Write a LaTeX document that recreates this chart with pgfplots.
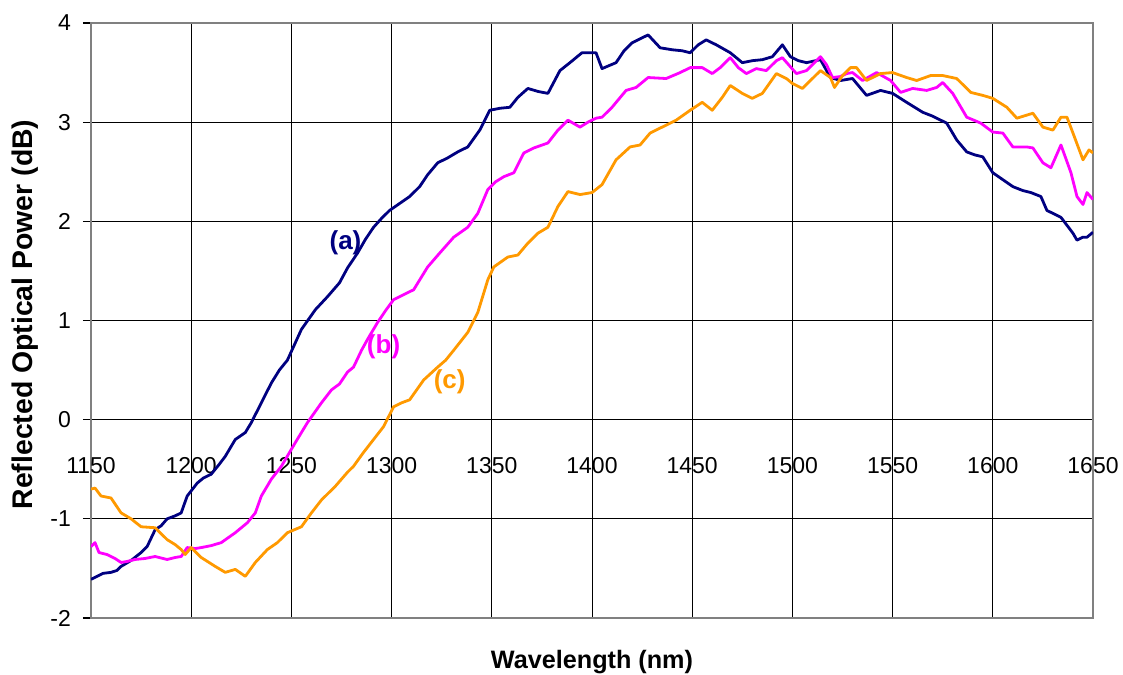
\documentclass[border=0pt]{standalone}
\usepackage{pgfplots}
\pgfplotsset{compat=1.18}
\usepackage{pgfplotstable}
\usepackage{fontspec}
\setmainfont{Liberation Sans}

\definecolor{curveA}{RGB}{0,0,128}
\definecolor{curveB}{RGB}{255,0,255}
\definecolor{curveC}{RGB}{255,153,0}
\definecolor{frameg}{RGB}{128,128,128}

% (a)
\pgfplotstableread{
x y
1150 -1.61
1156 -1.55
1160 -1.54
1163 -1.52
1165 -1.48
1170 -1.42
1175 -1.34
1178 -1.28
1182 -1.11
1185 -1.07
1188 -1.00
1192 -0.97
1195 -0.94
1198 -0.77
1203 -0.64
1206 -0.59
1210 -0.55
1214 -0.45
1217 -0.37
1222 -0.20
1227 -0.13
1230 -0.03
1235 0.17
1240 0.37
1244 0.50
1248 0.60
1255 0.91
1262 1.11
1268 1.24
1274 1.38
1278 1.53
1283 1.68
1287 1.82
1291 1.94
1295 2.03
1299 2.11
1304 2.18
1309 2.25
1314 2.35
1318 2.47
1323 2.59
1326 2.62
1328 2.64
1333 2.70
1338 2.75
1344 2.92
1349 3.12
1354 3.14
1359 3.15
1363 3.25
1368 3.34
1373 3.31
1378 3.29
1384 3.52
1389 3.60
1395 3.70
1402 3.70
1405 3.54
1412 3.60
1416 3.72
1420 3.80
1428 3.88
1434 3.75
1440 3.73
1445 3.72
1449 3.70
1453 3.78
1457 3.83
1462 3.78
1469 3.70
1475 3.60
1480 3.62
1485 3.63
1490 3.66
1495 3.78
1499 3.66
1503 3.62
1507 3.60
1514 3.63
1519 3.45
1524 3.42
1530 3.44
1537 3.27
1544 3.32
1550 3.29
1557 3.20
1565 3.10
1570 3.06
1574 3.02
1577 2.99
1582 2.82
1587 2.70
1591 2.67
1595 2.65
1600 2.49
1605 2.42
1610 2.35
1615 2.31
1619 2.29
1624 2.25
1627 2.11
1634 2.04
1640 1.88
1642 1.81
1645 1.84
1647 1.84
1650 1.89
}\dataA

% (b)
\pgfplotstableread{
x y
1150 -1.28
1152 -1.24
1154 -1.34
1158 -1.36
1162 -1.40
1165 -1.44
1168 -1.43
1172 -1.41
1177 -1.40
1182 -1.38
1188 -1.41
1192 -1.39
1195 -1.38
1198 -1.29
1202 -1.30
1205 -1.29
1210 -1.27
1215 -1.24
1222 -1.14
1228 -1.04
1232 -0.94
1235 -0.77
1240 -0.60
1245 -0.47
1252 -0.23
1258 -0.03
1265 0.17
1270 0.30
1274 0.36
1278 0.48
1281 0.53
1285 0.70
1288 0.81
1293 0.98
1297 1.10
1301 1.21
1306 1.26
1311 1.31
1318 1.54
1324 1.68
1331 1.84
1338 1.94
1343 2.08
1348 2.32
1352 2.40
1356 2.45
1361 2.49
1366 2.69
1371 2.74
1378 2.79
1383 2.92
1388 3.02
1394 2.95
1398 3.00
1402 3.04
1405 3.05
1410 3.15
1417 3.32
1422 3.35
1428 3.45
1437 3.44
1444 3.50
1449 3.55
1455 3.55
1460 3.49
1464 3.55
1469 3.65
1473 3.55
1477 3.49
1482 3.54
1487 3.52
1492 3.62
1495 3.65
1502 3.49
1507 3.52
1511 3.60
1514 3.66
1517 3.58
1520 3.45
1524 3.46
1527 3.49
1530 3.50
1535 3.42
1542 3.50
1549 3.42
1554 3.30
1560 3.34
1567 3.32
1572 3.35
1575 3.40
1580 3.29
1587 3.05
1594 2.99
1600 2.90
1605 2.89
1610 2.75
1617 2.75
1620 2.74
1625 2.59
1629 2.54
1634 2.77
1639 2.49
1642 2.25
1645 2.17
1647 2.29
1650 2.22
}\dataB

% (c)
\pgfplotstableread{
x y
1150 -0.70
1152 -0.69
1155 -0.77
1160 -0.79
1165 -0.94
1170 -1.00
1175 -1.08
1182 -1.09
1188 -1.21
1192 -1.26
1195 -1.31
1197 -1.36
1200 -1.29
1205 -1.39
1212 -1.48
1217 -1.54
1222 -1.51
1227 -1.58
1232 -1.44
1238 -1.31
1243 -1.24
1248 -1.14
1255 -1.08
1260 -0.94
1265 -0.81
1272 -0.67
1278 -0.53
1281 -0.47
1286 -0.33
1291 -0.20
1296 -0.07
1301 0.13
1305 0.17
1309 0.20
1316 0.40
1323 0.53
1327 0.60
1331 0.70
1338 0.88
1343 1.08
1348 1.41
1351 1.54
1358 1.64
1363 1.66
1368 1.78
1373 1.88
1378 1.94
1383 2.15
1388 2.30
1394 2.27
1400 2.29
1405 2.37
1412 2.62
1419 2.75
1424 2.77
1429 2.89
1435 2.95
1442 3.02
1449 3.12
1455 3.20
1460 3.12
1465 3.25
1469 3.37
1475 3.29
1480 3.24
1485 3.29
1492 3.49
1497 3.44
1500 3.39
1505 3.34
1514 3.52
1519 3.45
1521 3.35
1525 3.47
1529 3.55
1532 3.55
1537 3.42
1544 3.49
1550 3.50
1557 3.45
1562 3.42
1569 3.47
1575 3.47
1582 3.44
1589 3.30
1595 3.27
1600 3.24
1607 3.15
1612 3.04
1620 3.09
1625 2.95
1630 2.92
1634 3.05
1637 3.05
1640 2.89
1645 2.62
1648 2.72
1650 2.69
}\dataC

\begin{document}
\begin{tikzpicture}
\begin{axis}[
    width=501pt, height=297.5pt, scale only axis,
    xmin=1150, xmax=1650, ymin=-2, ymax=4,
    xtick={1150,1200,...,1650},
    ytick={-2,-1,0,1,2,3,4},
    grid=major,
    major grid style={black, line width=0.5pt},
    axis line style={frameg, line width=0.9pt},
    xtick style={draw=none},
    ytick pos=left,
    tick align=outside,
    major tick length=4pt,
    ytick style={black, line width=0.6pt},
    /pgf/number format/assume math mode=true,
    /pgf/number format/1000 sep={},
    ticklabel style={font=\fontsize{11.5}{13}\selectfont},
    xticklabel style={yshift=88pt},
    yticklabel style={xshift=-2.5pt},
    xlabel={Wavelength (nm)},
    ylabel={Reflected Optical Power (dB)},
    xlabel style={at={(axis description cs:0.5,-0.074)}, anchor=center,
        font=\bfseries\fontsize{12.6}{14}\selectfont},
    ylabel style={at={(axis description cs:-0.066,0.51)}, anchor=center,
        font=\bfseries\fontsize{14.2}{16}\selectfont},
    every axis plot/.append style={line width=1.4pt, line join=round},
]
\addplot[curveA] table[x=x, y=y] {\dataA};
\addplot[curveB] table[x=x, y=y] {\dataB};
\addplot[curveC] table[x=x, y=y] {\dataC};
\node[text=curveA, font=\bfseries\fontsize{13}{15}\selectfont] at (axis cs:1277,1.78) {(a)};
\node[text=curveB, font=\bfseries\fontsize{13}{15}\selectfont] at (axis cs:1296,0.73) {(b)};
\node[text=curveC, font=\bfseries\fontsize{13}{15}\selectfont] at (axis cs:1329,0.38) {(c)};
\coordinate (sw) at (rel axis cs:0,0);
\coordinate (ne) at (rel axis cs:1,1);
\end{axis}
\pgfresetboundingbox
\path[use as bounding box] ([shift={(-45.5pt,-28.5pt)}]sw) rectangle ([shift={(15pt,11.5pt)}]ne);
\end{tikzpicture}
\end{document}
